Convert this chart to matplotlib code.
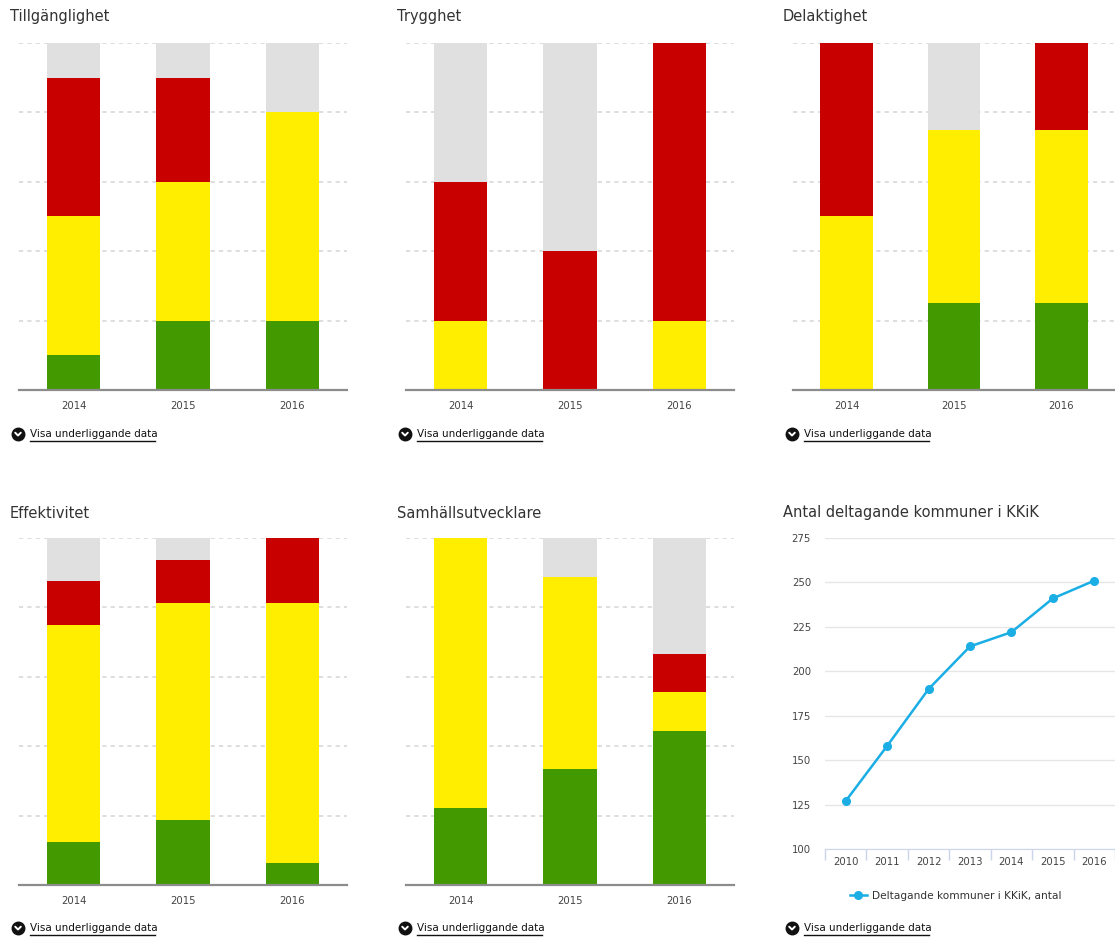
import matplotlib
matplotlib.use("Agg")
import matplotlib.pyplot as plt
import numpy as np

plt.rcParams['font.family'] = ['DejaVu Sans']

# ---------------- data ----------------
years = ['2014', '2015', '2016']

titles = ['Tillgänglighet', 'Trygghet', 'Delaktighet', 'Effektivitet', 'Samhällsutvecklare']

tillg_green = [10, 20, 20]
tillg_yellow = [40, 40, 60]
tillg_red = [40, 30, 0]
tillg_grey = [10, 10, 20]

tryg_green = [0, 0, 0]
tryg_yellow = [20, 0, 20]
tryg_red = [40, 40, 80]
tryg_grey = [40, 60, 0]

delak_green = [0, 25, 25]
delak_yellow = [50, 50, 50]
delak_red = [50, 0, 25]
delak_grey = [0, 25, 0]

effek_green = [12.5, 18.75, 6.25]
effek_yellow = [62.5, 62.5, 75]
effek_red = [12.5, 12.5, 18.75]
effek_grey = [12.5, 6.25, 0]

samh_green = [22.2, 33.3, 44.4]
samh_yellow = [77.8, 55.6, 11.1]
samh_red = [0, 0, 11.1]
samh_grey = [0, 11.1, 33.3]

line_years = ['2010', '2011', '2012', '2013', '2014', '2015', '2016']
line_values = [127, 158, 190, 214, 222, 241, 251]
line_title = 'Antal deltagande kommuner i KKiK'
line_label = 'Deltagande kommuner i KKiK, antal'
link_text = 'Visa underliggande data'

# ---------------- styles ----------------
GREEN = '#429a00'
YELLOW = '#ffee00'
RED = '#c80000'
GREY = '#e0e0e0'
LINE = '#1aaee5'

W, H = 1115, 938
fig = plt.figure(figsize=(W / 100, H / 100), dpi=100)


def px_rect(x0, y0, x1, y1):
    return [x0 / W, 1 - y1 / H, (x1 - x0) / W, (y1 - y0) / H]


panels = [
    (titles[0], [tillg_green, tillg_yellow, tillg_red, tillg_grey], 19, 347, 43, 390),
    (titles[1], [tryg_green, tryg_yellow, tryg_red, tryg_grey], 406, 734, 43, 390),
    (titles[2], [delak_green, delak_yellow, delak_red, delak_grey], 793, 1115, 43, 390),
    (titles[3], [effek_green, effek_yellow, effek_red, effek_grey], 19, 347, 538, 885),
    (titles[4], [samh_green, samh_yellow, samh_red, samh_grey], 406, 734, 538, 885),
]

colors = [GREEN, YELLOW, RED, GREY]

for title, series, x0, x1, y0, y1 in panels:
    ax = fig.add_axes(px_rect(x0, y0, x1, y1))
    x = np.arange(len(years))
    bottom = np.zeros(len(years))
    for vals, c in zip(series, colors):
        ax.bar(x, vals, bottom=bottom, width=0.49, color=c, zorder=3, linewidth=0)
        bottom += np.array(vals)
    ax.set_xlim(-0.5, 2.5)
    ax.set_ylim(0, 100)
    for g in [20, 40, 60, 80, 100]:
        ax.axhline(g, color='#d8d8d8', lw=1.2, ls=(0, (2.5, 2.5)), zorder=1)
    for s in ['top', 'right', 'left']:
        ax.spines[s].set_visible(False)
    ax.spines['bottom'].set_color('#8c8c8c')
    ax.spines['bottom'].set_linewidth(1.6)
    ax.spines['bottom'].set_zorder(4)
    ax.set_yticks([])
    ax.set_xticks(x)
    ax.set_xticklabels(years, fontsize=7.3, color='#444444')
    ax.tick_params(axis='x', length=0, pad=8)
    ax.patch.set_alpha(0)

# ---------------- line chart ----------------
axl = fig.add_axes(px_rect(825, 538, 1115, 849))
xl = np.arange(len(line_years))
axl.plot(xl, line_values, color=LINE, lw=1.8, marker='o', ms=5.5, zorder=3,
         label=line_label, clip_on=False)
axl.set_xlim(-0.5, len(line_years) - 0.5)
axl.set_ylim(100, 275)
axl.set_yticks(np.arange(100, 276, 25))
axl.tick_params(axis='y', length=0, labelsize=7.3, labelcolor='#444444', pad=10)
axl.grid(axis='y', color='#e6e6e6', lw=1)
axl.set_xticks(xl)
axl.set_xticklabels(line_years, fontsize=7.3, color='#444444')
axl.tick_params(axis='x', length=0, pad=6)
axl.set_xticks(np.arange(-0.5, len(line_years), 1), minor=True)
axl.tick_params(axis='x', which='minor', length=8, color='#ccd6eb', width=1)
for s in ['top', 'right', 'left']:
    axl.spines[s].set_visible(False)
axl.spines['bottom'].set_color('#ccd6eb')
axl.set_axisbelow(True)
leg = axl.legend(loc='center left', bbox_to_anchor=(25 / 290, -47 / 311), frameon=False,
                 fontsize=7.6, handlelength=1.6, handletextpad=0.5,
                 borderpad=0, borderaxespad=0)
for t in leg.get_texts():
    t.set_color('#333333')

# ---------------- overlay texts ----------------
ov = fig.add_axes([0, 0, 1, 1], zorder=10)
ov.set_xlim(0, W)
ov.set_ylim(H, 0)
ov.axis('off')
ov.patch.set_alpha(0)

title_pos = [(10, 17), (397, 17), (783, 17), (10, 513), (397, 513)]
for (tx, ty), t in zip(title_pos, titles):
    ov.text(tx, ty, t, fontsize=10.5, color='#333333', va='center', ha='left')
ov.text(783, 513, line_title, fontsize=10.5, color='#333333', va='center', ha='left')

link_pos = [(18, 434), (405, 434), (792, 434), (18, 928), (405, 928), (792, 928)]
for lx, ly in link_pos:
    ov.plot([lx], [ly], 'o', color='#111111', ms=9)
    ov.plot([lx - 2.8, lx, lx + 2.8], [ly - 1.3, ly + 1.5, ly - 1.3], color='white', lw=1.4,
            solid_capstyle='round')
    ov.text(lx + 12, ly, link_text, fontsize=7.5, color='#111111', va='center', ha='left')
    ov.plot([lx + 12, lx + 137], [ly + 7, ly + 7], color='#111111', lw=1)

fig.savefig('out.png', dpi=100)
